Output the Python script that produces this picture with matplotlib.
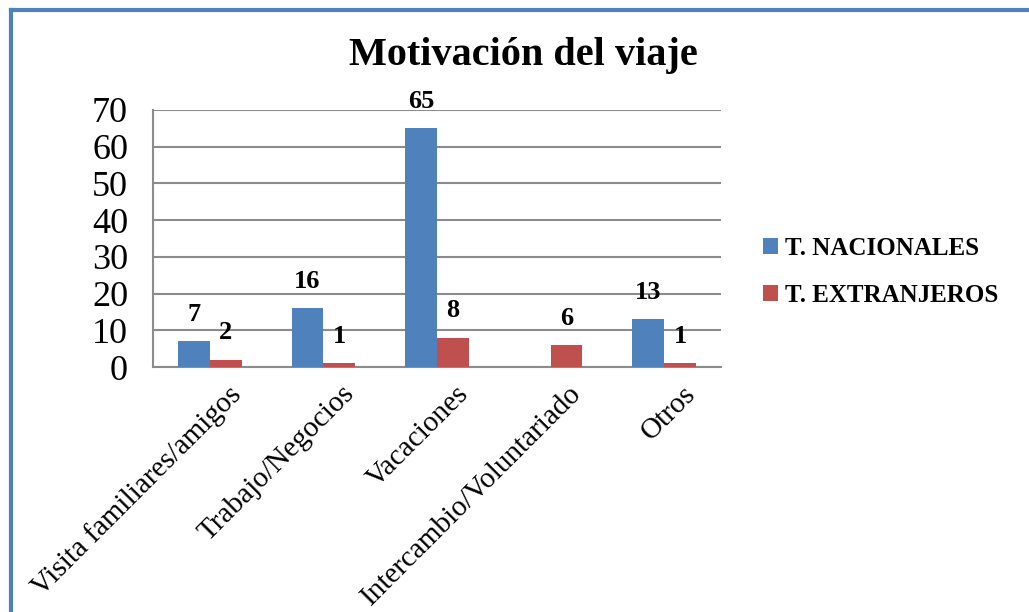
import numpy as np
import matplotlib
matplotlib.use("Agg")
import matplotlib.pyplot as plt
from matplotlib.lines import Line2D

categories = ['Visita familiares/amigos', 'Trabajo/Negocios', 'Vacaciones',
              'Intercambio/Voluntariado', 'Otros']
nacionales = [7, 16, 65, 0, 13]
extranjeros = [2, 1, 8, 6, 1]
series_names = ['T. NACIONALES', 'T. EXTRANJEROS']
colors = ['#4F81BD', '#C0504D']

plt.rcParams['font.family'] = ['Liberation Serif', 'DejaVu Serif']

fig = plt.figure(figsize=(10.29, 6.12), dpi=100)
ax = fig.add_axes([153 / 1029, 1 - 367 / 612, (721 - 153) / 1029, (367 - 110) / 612])

x = np.arange(len(categories))
w = 0.28
b1 = ax.bar(x - w / 2, nacionales, w, color=colors[0], label=series_names[0], zorder=3)
b2 = ax.bar(x + w / 2, extranjeros, w, color=colors[1], label=series_names[1], zorder=3)

for bars, vals in ((b1, nacionales), (b2, extranjeros)):
    for rect, v in zip(bars, vals):
        if v == 0:
            continue
        ax.annotate(str(v), (rect.get_x() + rect.get_width() / 2, v),
                    xytext=(0, 11), textcoords='offset points',
                    ha='center', va='bottom', fontsize=19, fontweight='bold',
                    zorder=4, annotation_clip=False)

ax.set_xlim(-0.5, len(categories) - 0.5)
ax.set_ylim(0, 70)
ax.set_yticks(range(0, 71, 10))
ax.yaxis.grid(True, color='#8C8C8C', linewidth=1.5, zorder=0)
ax.set_axisbelow(True)
for s in ['top', 'right']:
    ax.spines[s].set_visible(False)
for s in ['left', 'bottom']:
    ax.spines[s].set_color('#8C8C8C')
    ax.spines[s].set_linewidth(1.5)
ax.tick_params(axis='both', length=0, labelsize=26, pad=18)
ax.set_xticks(x)
ax.set_xticklabels([])

# rotated category labels, ending a bit right of each category centre
for i, name in enumerate(categories):
    ax.annotate(name, (i, 0), xycoords=('data', 'axes fraction'),
                xytext=(13, -10), textcoords='offset points',
                rotation=45, ha='right', va='top', rotation_mode='anchor',
                fontsize=21, annotation_clip=False)

fig.text(523 / 1029, 1 - 55 / 612, 'Motivación del viaje', ha='center', va='center',
         fontsize=29, fontweight='bold')

leg = fig.legend(handles=[b1, b2], loc='center left',
                 bbox_to_anchor=(740 / 1029, 1 - 272 / 612), frameon=False,
                 prop={'weight': 'bold', 'size': 18}, handlelength=0.6,
                 handleheight=0.6, handletextpad=0.3, labelspacing=0.95)

# blue frame on top and left
fig.add_artist(Line2D([11 / 1029, 11 / 1029], [0, 1 - 10 / 612], color='#4F81BD', lw=3))
fig.add_artist(Line2D([11 / 1029, 1], [1 - 10 / 612, 1 - 10 / 612], color='#4F81BD', lw=3))

fig.savefig('out.png', dpi=100)
